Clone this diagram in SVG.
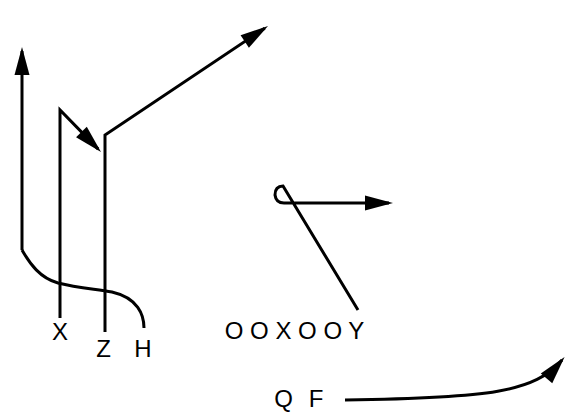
<svg xmlns="http://www.w3.org/2000/svg" width="584" height="419" viewBox="0 0 584 419">
<style>
.ln{fill:none;stroke:#000;stroke-width:3;stroke-linejoin:miter}
.ar{marker-end:url(#ah)}
.lb{font-family:"Liberation Sans",Arial,sans-serif;font-size:24px;fill:#000;text-anchor:middle}
</style>
<defs>
<marker id="ah" markerUnits="userSpaceOnUse" markerWidth="30" markerHeight="16" refX="24" refY="7.5" orient="auto" overflow="visible">
<path d="M0,0 L28,7.5 L0,15 Z" fill="#000"/>
</marker>
</defs>
<rect width="584" height="419" fill="#fff"/>
<g id="connectors">
<path class="ln ar" d="M22,250 L22,51"/>
<path class="ln" d="M22,250 C30,264 40,278 58,283 C78,288 95,289 112,292 C138,298 144,315 144,328"/>
<path class="ln ar" d="M60,318 L60,110 L98.2,149.1"/>
<path class="ln ar" d="M105,332 L105,135 L264.7,28.2"/>
<path class="ln ar" d="M358,310 L283,186 Q275,186 275,195 Q276,203 284,203 L389,203"/>
<path class="ln ar" d="M345,400 C490,398 535,392 562,360"/>
</g>
<g id="node-X"><text class="lb" x="60" y="340">X</text></g>
<g id="node-Z"><text class="lb" x="103.5" y="357">Z</text></g>
<g id="node-H"><text class="lb" x="143" y="357">H</text></g>
<g id="node-OOXOOY"><text class="lb" x="294.5" y="339">O O X O O Y</text></g>
<g id="node-Q"><text class="lb" x="283.5" y="407">Q</text></g>
<g id="node-F"><text class="lb" x="316" y="407">F</text></g>
</svg>
